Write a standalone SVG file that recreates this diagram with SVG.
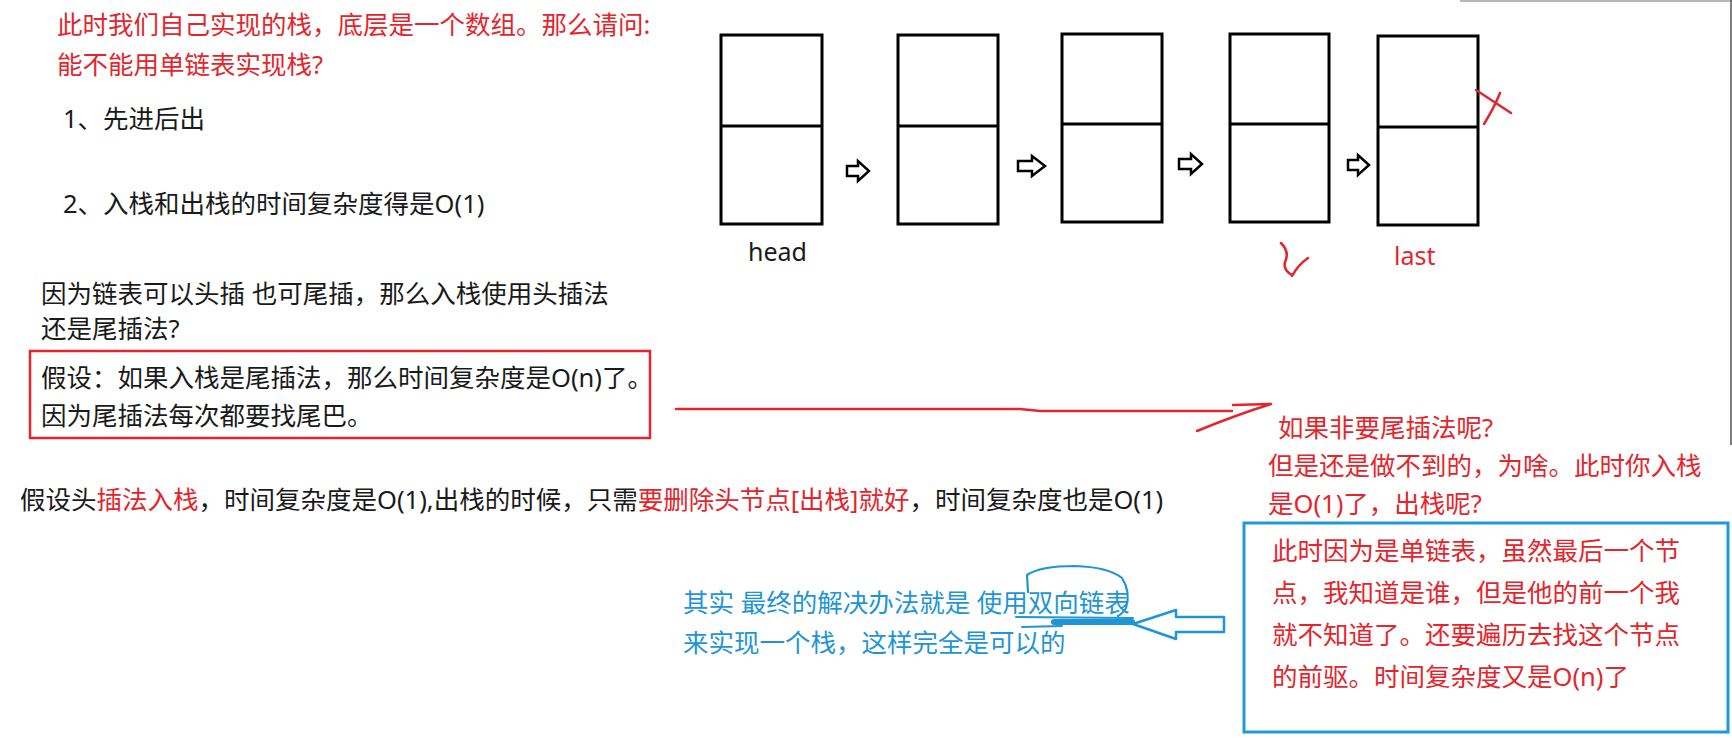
<svg xmlns="http://www.w3.org/2000/svg" width="1732" height="738" viewBox="0 0 1732 738">
<style>
text{font-family:"Noto Sans","Noto Sans CJK SC",sans-serif;font-size:25.5px;fill:#1a1a1a}
.r{fill:#e3262d}
.b{fill:#1f95d6}
.lbl{font-size:25px}
.node rect{fill:#fff;stroke:#000;stroke-width:3}
.node line{stroke:#000;stroke-width:3}
.ba{fill:#fff;stroke:#000;stroke-width:2.5;stroke-linejoin:miter}
.rs{fill:none;stroke:#e3262d;stroke-width:2.5;stroke-linecap:round;stroke-linejoin:round}
.bs{fill:none;stroke:#1f95d6;stroke-linecap:round;stroke-linejoin:round}
</style>
<rect x="0" y="0" width="1732" height="738" fill="#fff"/>
<line x1="1460" y1="1" x2="1732" y2="1" stroke="#b8b8b8" stroke-width="2"/>
<line x1="1731" y1="0" x2="1731" y2="445" stroke="#555" stroke-width="1.5"/>

<g id="question">
<text class="r" x="57" y="34">此时我们自己实现的栈，底层是一个数组。那么请问:</text>
<text class="r" x="57" y="74">能不能用单链表实现栈?</text>
</g>
<g id="req1"><text x="63" y="128">1、先进后出</text></g>
<g id="req2"><text x="63" y="213">2、入栈和出栈的时间复杂度得是O(1)</text></g>
<g id="choice">
<text x="41" y="303">因为链表可以头插 也可尾插，那么入栈使用头插法</text>
<text x="41" y="338">还是尾插法?</text>
</g>
<g id="assume-tail">
<rect x="30" y="351" width="620" height="87" fill="none" stroke="#e3262d" stroke-width="2.5"/>
<text x="41" y="387">假设：如果入栈是尾插法，那么时间复杂度是O(n)了。</text>
<text x="41" y="425">因为尾插法每次都要找尾巴。</text>
</g>
<g id="assume-head">
<text x="20" y="509">假设头<tspan class="r">插法入栈</tspan>，时间复杂度是O(1),出栈的时候，只需<tspan class="r">要删除头节点[出栈]就好</tspan>，时间复杂度也是O(1)</text>
</g>

<g id="node1" class="node"><rect x="721" y="35" width="101" height="189"/><line x1="721" y1="126" x2="822" y2="126"/></g>
<g id="node2" class="node"><rect x="898" y="35" width="100" height="189"/><line x1="898" y1="126" x2="998" y2="126"/></g>
<g id="node3" class="node"><rect x="1062" y="34" width="100" height="188"/><line x1="1062" y1="124" x2="1162" y2="124"/></g>
<g id="node4" class="node"><rect x="1230" y="34" width="99" height="188"/><line x1="1230" y1="124" x2="1329" y2="124"/></g>
<g id="node5" class="node"><rect x="1378" y="36" width="100" height="189"/><line x1="1378" y1="127" x2="1478" y2="127"/></g>
<g id="head-label"><text class="lbl" x="748" y="261">head</text></g>
<g id="last-label"><text class="lbl r" x="1394" y="265">last</text></g>
<g id="marks">
<path class="rs" d="M1476,90 L1511,113"/>
<path class="rs" d="M1500,93 Q1494,108 1484,124"/>
<path class="rs" d="M1281,243 Q1290,252 1285,262 Q1283,270 1292,275 M1308,258 Q1298,265 1292,276"/>
</g>

<g id="connectors">
<path class="ba" d="M847,166 L858,166 L858,161 L869,171 L858,181 L858,176 L847,176 Z"/>
<path class="ba" d="M1018,161 L1032,161 L1032,156 L1045,166 L1032,176 L1032,171 L1018,171 Z"/>
<path class="ba" d="M1179,159 L1191,159 L1191,154 L1202,164 L1191,174 L1191,169 L1179,169 Z"/>
<path class="ba" d="M1348,160 L1358,160 L1358,155 L1369,165 L1358,175 L1358,170 L1348,170 Z"/>
<path class="rs" d="M676,409 L1020,409 L1040,411 L1232,411"/>
<path class="rs" d="M1233,405 L1271,404 Q1236,415 1197,431"/>
<path class="bs" stroke-width="2.5" d="M1133,624 L1176,610 L1176,617 L1224,617 L1224,632 L1176,632 L1176,639 Z"/>
<path class="bs" stroke-width="2" d="M1016,617 L1133,618"/>
<path class="bs" stroke-width="6" d="M1054,622 L1132,622"/>
<path class="bs" stroke-width="2" d="M1022,627 L1062,626"/>
<path class="bs" stroke-width="2.2" d="M1028,592 L1027,575 Q1040,566 1075,566 Q1108,567 1122,578 Q1131,592 1126,608 Q1122,614 1118,616"/>
</g>

<g id="tail-question">
<text class="r" x="1278" y="437">如果非要尾插法呢?</text>
<text class="r" x="1268" y="475">但是还是做不到的，为啥。此时你入栈</text>
<text class="r" x="1268" y="513">是O(1)了，出栈呢?</text>
</g>
<g id="explain">
<rect x="1244" y="523" width="484" height="209" fill="none" stroke="#1f9ad8" stroke-width="3"/>
<text class="r" x="1272" y="560">此时因为是单链表，虽然最后一个节</text>
<text class="r" x="1272" y="602">点，我知道是谁，但是他的前一个我</text>
<text class="r" x="1272" y="644">就不知道了。还要遍历去找这个节点</text>
<text class="r" x="1272" y="686">的前驱。时间复杂度又是O(n)了</text>
</g>
<g id="solution">
<text class="b" x="683" y="612">其实 最终的解决办法就是 使用双向链表</text>
<text class="b" x="683" y="652">来实现一个栈，这样完全是可以的</text>
</g>
</svg>
